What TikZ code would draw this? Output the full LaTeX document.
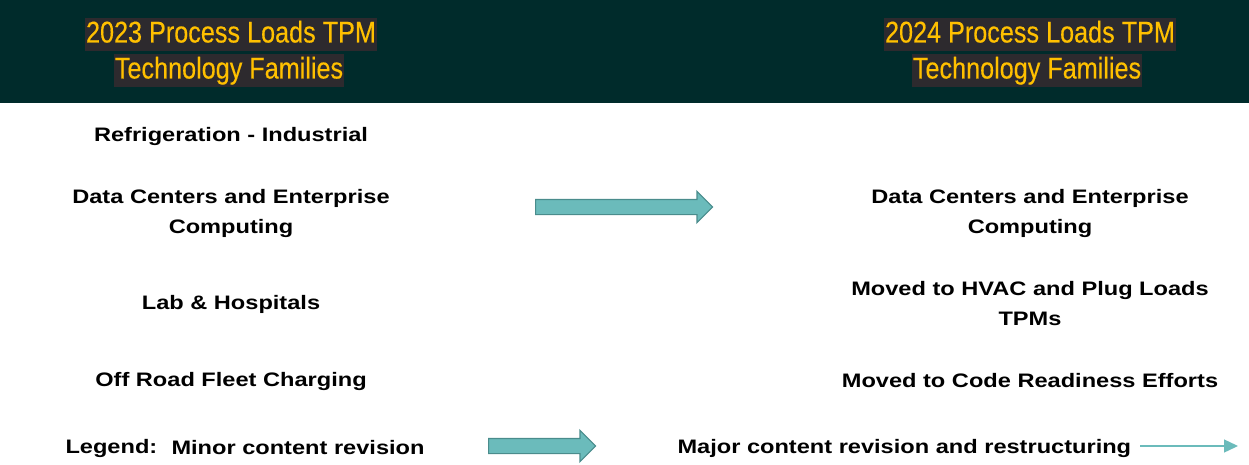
\documentclass[tikz,border=0pt]{standalone}
\usepackage{fontspec}
\setmainfont{Liberation Sans}
\newfontfamily\condfont[FakeStretch=0.84,FakeBold=0.3]{Liberation Sans}
\newfontfamily\widefont[FakeStretch=1.21]{Liberation Sans Bold}
\usetikzlibrary{shapes.arrows,arrows.meta}
\definecolor{band}{HTML}{002B2B}
\definecolor{hl}{HTML}{2D2A2E}
\definecolor{gold}{HTML}{FFC000}
\definecolor{teal}{HTML}{6BBBBB}
\definecolor{tealdark}{HTML}{4A8C8C}
\begin{document}
\begin{tikzpicture}[x=1pt,y=-1pt,
  title/.style={fill=hl,text=gold,font=\condfont\fontsize{30}{32}\selectfont,inner xsep=1pt,inner ysep=1pt,text height=23pt,text depth=8pt},
  item/.style={font=\widefont\fontsize{19.5}{30}\selectfont,align=center,text=black},
  bigarrow/.style={single arrow,draw=tealdark,fill=teal,line width=1.2pt,single arrow head extend=8pt,inner sep=0pt,text height=14pt,text width=0pt,single arrow tip angle=90,anchor=west}
]
\useasboundingbox (0,0) rectangle (1249,465);
\fill[band] (0,0) rectangle (1249,103);
% titles
\node[title] (t1a) at (231,35) {2023 Process Loads TPM};
\node[title] (t1b) at (229,71) {Technology Families};
\node[title] (t2a) at (1030,35) {2024 Process Loads TPM};
\node[title] (t2b) at (1027,71) {Technology Families};
% left column
\node[item] (l1) at (231,137) {Refrigeration - Industrial};
\node[item] (l2) at (231,214) {Data Centers and Enterprise\\Computing};
\node[item] (l3) at (231,304) {Lab \& Hospitals};
\node[item] (l4) at (231,381) {Off Road Fleet Charging};
% right column
\node[item] (r2) at (1030,214) {Data Centers and Enterprise\\Computing};
\node[item] (r3) at (1030,304) {Moved to HVAC and Plug Loads\\TPMs};
\node[item] (r4) at (1030,381) {Moved to Code Readiness Efforts};
% big arrow
\node[bigarrow,minimum height=177pt] (a1) at (535,207) {};
% legend
\node[item,anchor=west] (lg) at (62,448) {Legend:};
\node[item,anchor=west] (lg1) at (168,448) {Minor content revision};
\node[bigarrow,minimum height=107pt] (a2) at (488,446) {};
\node[item,anchor=west] (lg2) at (674,448) {Major content revision and restructuring};
\coordinate (thinend) at (1238,446);
\draw[teal,line width=1.3pt,-{Triangle[length=14pt,width=13pt]}] (1140,446) -- (thinend);
\end{tikzpicture}
\end{document}
